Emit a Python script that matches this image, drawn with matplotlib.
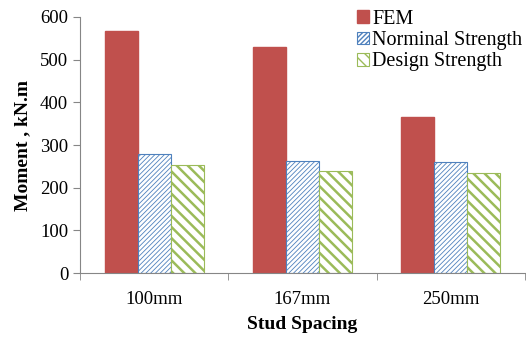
import numpy as np
import matplotlib.pyplot as plt

plt.rcParams['font.family'] = ['Liberation Serif', 'DejaVu Serif']

categories = ['100mm', '167mm', '250mm']
fem = [568, 529, 365]
nominal = [279, 263, 261]
design = [253, 238, 234]

x = np.arange(len(categories))
w = 0.223

fig = plt.figure(figsize=(5.26, 3.38), dpi=100)
ax = fig.add_axes([0.152, 0.192, 0.846, 0.758])

ax.bar(x - w, fem, w, color='#C0504D', edgecolor='#C0504D', label='FEM')
b2 = ax.bar(x, nominal, w, color='white', edgecolor='#4F81BD', hatch='///////',
            linewidth=0.8, label='Norminal Strength')
b3 = ax.bar(x + w, design, w, color='white', edgecolor='#9BBB59', hatch='\\\\\\',
            linewidth=0.8, label='Design Strength')
for p in b2:
    p.set_hatch_linewidth(0.6)
for p in b3:
    p.set_hatch_linewidth(1.8)

ax.set_xlim(-0.5, 2.5)
ax.set_ylim(0, 600)
ax.set_yticks(range(0, 601, 100))
ax.set_xticks(x)
ax.set_xticklabels(categories)
ax.set_xticks([-0.5, 0.5, 1.5, 2.5], minor=True)
ax.tick_params(axis='x', which='major', length=0, labelsize=13.5, pad=13)
ax.tick_params(axis='x', which='minor', length=5, color='#868686', direction='out')
ax.tick_params(axis='y', labelsize=13.5, length=5, color='#868686')

for s in ['top', 'right']:
    ax.spines[s].set_visible(False)
for s in ['left', 'bottom']:
    ax.spines[s].set_color('#868686')

ax.set_xlabel('Stud Spacing', fontsize=14, fontweight='bold', labelpad=6)
ax.set_ylabel('Moment , kN.m', fontsize=14, fontweight='bold', labelpad=6)

ax.legend(loc='upper right', bbox_to_anchor=(1.012, 1.06), frameon=False, fontsize=14.5,
          handlelength=0.6, handleheight=0.6, handletextpad=0.15, labelspacing=0.12,
          borderaxespad=0)

fig.savefig('out.png', dpi=100)
